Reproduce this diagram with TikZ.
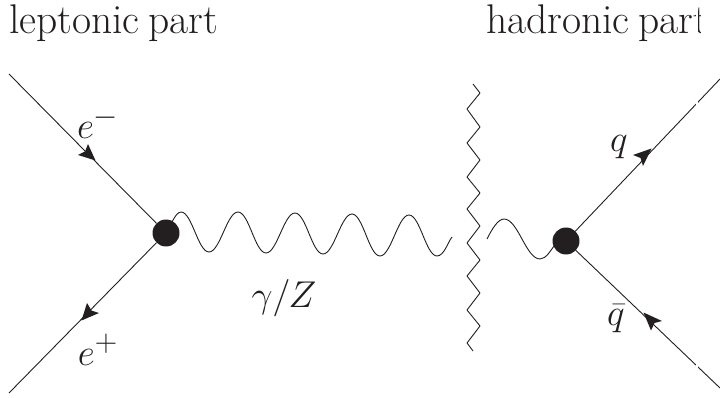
\documentclass[tikz,border=0pt]{standalone}
\definecolor{ink}{HTML}{231F20}
\newcommand{\lblmath}[1]{\scalebox{1.5}{\fontsize{24.88}{30}\selectfont$#1$}}
\tikzset{
  vertexdot/.style={circle,fill=ink,inner sep=0pt,minimum size=27pt},
  fermion/.style={draw=ink,line width=0.9pt},
  wavy/.style={draw=ink,line width=0.9pt,line join=round},
  head/.style={fill=ink,draw=none},
  lbl/.style={inner sep=0pt,text=ink},
  title/.style={inner sep=0pt,anchor=base west,text=ink,font=\fontsize{41.5}{48}\selectfont}
}
\begin{document}
\begin{tikzpicture}[x=1pt,y=-1pt]
\useasboundingbox (0,0) rectangle (720,398);
% titles
\node[title] (tl) at (9,34) {leptonic\kern-4pt\ part};
\begin{scope}
\clip (480,0) rectangle (700,60);
\node[title] (tr) at (486,34) {hadronic\kern-4pt\ part};
\end{scope}
% vertices
\node[vertexdot] (vl) at (166,233) {};
\node[vertexdot] (vr) at (566,241) {};
% free ends
\coordinate (a1) at (9,74);
\coordinate (a2) at (9,393);
\coordinate (b1) at (720,79);
\coordinate (b2) at (720,388);
\draw[fermion] (a1) -- (vl);
\draw[fermion] (vl) -- (a2);
\draw[fermion] (vr) -- (b1);
\draw[fermion] (vr) -- (b2);
% arrowheads
\fill[head] (95.5,160.5) -- (78,155) -- (85,151.5) -- (88,144) -- cycle;
\fill[head] (81.5,320.5) -- (99,313) -- (91.5,310.5) -- (87,303) -- cycle;
\fill[head] (651.5,148.5) -- (633,155) -- (640.5,158) -- (643,166) -- cycle;
\fill[head] (643.5,312.5) -- (662,321) -- (654.5,323) -- (651,330.5) -- cycle;
% photon left
\coordinate (wl0) at (172,222);
\coordinate (wl1) at (452,237);
\draw[wavy] (wl0) .. controls (175,216) and (178,212) .. (181,212)
  .. controls +(11,0) and +(-11,0) .. (209,252)
  .. controls +(11,0) and +(-11,0) .. (238,212)
  .. controls +(11,0) and +(-11,0) .. (266,253)
  .. controls +(11,0) and +(-11,0) .. (295,213)
  .. controls +(11,0) and +(-11,0) .. (323,254)
  .. controls +(11,0) and +(-11,0) .. (352,214)
  .. controls +(11,0) and +(-11,0) .. (380,256)
  .. controls +(11,0) and +(-11,0) .. (409,215)
  .. controls +(11,0) and +(-11,0) .. (437,256)
  .. controls +(7,0) and +(-4,5) .. (wl1);
% photon right
\coordinate (wr0) at (487,239);
\coordinate (wr1) at (554,246);
\draw[wavy] (wr0) .. controls (492,229) and (498,219) .. (504,219)
  .. controls +(14,0) and +(-14,0) .. (540,259)
  .. controls +(6,0) and +(-3,4) .. (wr1);
% cut
\draw[wavy] (473,84) -- (480,93) -- (467,109) -- (480,127) -- (467,143) -- (480,160)
  -- (467,177) -- (480,193) -- (467,209) -- (480,226) -- (467,243) -- (480,260)
  -- (467,276) -- (480,293) -- (467,310) -- (480,326) -- (467,343) -- (473,351);
% labels
\node[lbl] (le) at (98,123) {\lblmath{e^-}};
\node[lbl] (lp) at (98,350) {\lblmath{e^+}};
\node[lbl] (lg) at (284,298) {\lblmath{\gamma/Z}};
\node[lbl] (lq) at (619,147) {\lblmath{q}};
\node[lbl] (lqb) at (616,319) {\lblmath{\bar q}};
% white strip
\fill[white] (695.7,0) rectangle (698,398);
\end{tikzpicture}
\end{document}
